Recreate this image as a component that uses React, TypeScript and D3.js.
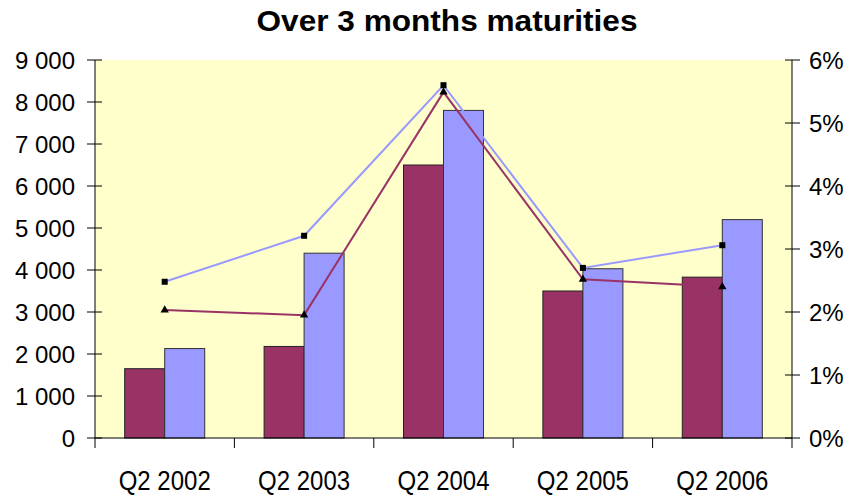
import React from "react";
import * as d3 from "d3";

const categories = ["Q2 2002", "Q2 2003", "Q2 2004", "Q2 2005", "Q2 2006"];
const barSeriesA = [1650, 2180, 6500, 3500, 3830];
const barSeriesB = [2130, 4400, 7800, 4030, 5200];
const lineSquares = [2.48, 3.21, 5.6, 2.7, 3.06];
const lineTriangles = [2.03, 1.95, 5.49, 2.52, 2.4];
const leftTicks = [0, 1000, 2000, 3000, 4000, 5000, 6000, 7000, 8000, 9000];
const rightTicks = [0, 1, 2, 3, 4, 5, 6];

const W = 853, H = 496;
const L = 95, R = 792, T = 60, B = 438;

export default function App() {
  const x = d3.scaleBand<string>().domain(categories).range([L, R]).paddingInner(0).paddingOuter(0);
  const yL = d3.scaleLinear().domain([0, 9000]).range([B, T]);
  const yR = d3.scaleLinear().domain([0, 6]).range([B, T]);
  const bw = x.bandwidth();
  const barW = bw * 0.287;
  const cx = (c: string) => (x(c) as number) + bw / 2;
  const fmt = (v: number) => d3.format(",")(v).replace(/,/g, " ");
  const lineR = d3.line<number>().x((_, i) => cx(categories[i])).y((d) => yR(d));

  return (
    <svg width={W} height={H} style={{ position: "absolute", left: 0, top: 0, fontFamily: "'Liberation Sans', Arial, sans-serif" }}>
      <rect x={0} y={0} width={W} height={H} fill="#fff" />
      <text x={447} y={31} textAnchor="middle" fontSize={30} fontWeight="bold" textLength={381} lengthAdjust="spacingAndGlyphs">Over 3 months maturities</text>
      <rect x={L} y={T} width={R - L} height={B - T} fill="#FFFFCC" />
      {categories.map((c, i) => (
        <g key={c}>
          <rect x={cx(c) - barW} y={yL(barSeriesA[i])} width={barW} height={B - yL(barSeriesA[i])} fill="#993366" stroke="#222" strokeWidth={1} />
          <rect x={cx(c)} y={yL(barSeriesB[i])} width={barW} height={B - yL(barSeriesB[i])} fill="#9999FF" stroke="#333" strokeWidth={1} />
        </g>
      ))}
      <path d={lineR(lineSquares) || ""} fill="none" stroke="#9999FF" strokeWidth={2} />
      <path d={lineR(lineTriangles) || ""} fill="none" stroke="#993366" strokeWidth={2} />
      {lineSquares.map((v, i) => (
        <rect key={"s" + i} x={cx(categories[i]) - 3} y={yR(v) - 3} width={6} height={6} fill="#000" />
      ))}
      {lineTriangles.map((v, i) => (
        <path key={"t" + i} d={d3.symbol(d3.symbolTriangle, 30)() || ""} transform={`translate(${cx(categories[i])},${yR(v)})`} fill="#000" />
      ))}
      <line x1={L} y1={T} x2={L} y2={B} stroke="#000" />
      <line x1={R} y1={T} x2={R} y2={B} stroke="#000" />
      <line x1={L} y1={B} x2={R} y2={B} stroke="#000" />
      {leftTicks.map((t) => (
        <g key={"l" + t}>
          <line x1={L - 8} x2={L + 7} y1={yL(t)} y2={yL(t)} stroke="#000" />
          <text x={75} y={yL(t)} dy="0.36em" textAnchor="end" fontSize={24}>{fmt(t)}</text>
        </g>
      ))}
      {rightTicks.map((t) => (
        <g key={"r" + t}>
          <line x1={R - 7} x2={R + 8} y1={yR(t)} y2={yR(t)} stroke="#000" />
          <text x={809} y={yR(t)} dy="0.36em" textAnchor="start" fontSize={24}>{t + "%"}</text>
        </g>
      ))}
      {d3.range(categories.length + 1).map((i) => {
        const xx = L + i * bw;
        return <line key={"xt" + i} x1={xx} x2={xx} y1={B} y2={B + 10} stroke="#000" />;
      })}
      {categories.map((c) => (
        <text key={"xl" + c} transform={`translate(${cx(c)},490) scale(1,1.15)`} textAnchor="middle" fontSize={24}>{c}</text>
      ))}
    </svg>
  );
}
